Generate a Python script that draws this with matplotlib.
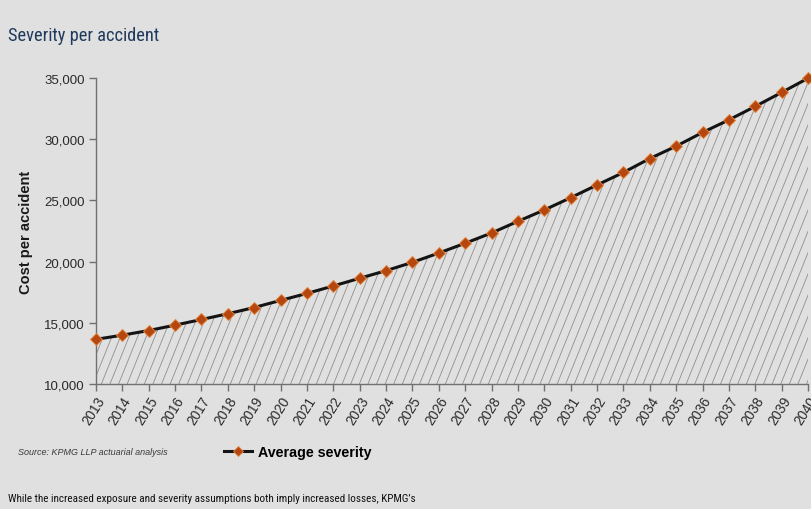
import numpy as np
import matplotlib
matplotlib.use("Agg")
import matplotlib.pyplot as plt
from matplotlib import font_manager
from matplotlib.patches import Polygon
from matplotlib.collections import LineCollection
from matplotlib.lines import Line2D

years = list(range(2013, 2041))
severity = [13650, 13990, 14370, 14810, 15270, 15740, 16250, 16830, 17400, 18010,
            18640, 19260, 19940, 20700, 21500, 22340, 23290, 24220, 25220, 26260,
            27280, 28420, 29430, 30550, 31580, 32680, 33820, 34980]
y_ticks = [10000, 15000, 20000, 25000, 30000, 35000]
y_tick_labels = ["10,000", "15,000", "20,000", "25,000", "30,000", "35,000"]

BG = "#e0e0e0"
plt.rcParams['font.family'] = ['Liberation Sans', 'DejaVu Sans']

# pick a condensed family if one is installed
narrow = None
for fam in ['Liberation Sans Narrow', 'Roboto Condensed', 'Open Sans Condensed', 'DejaVu Sans Condensed']:
    try:
        font_manager.findfont(font_manager.FontProperties(family=fam), fallback_to_default=False)
        narrow = fam
        break
    except Exception:
        pass
if narrow is None:
    title_kw = dict(family=['Liberation Sans', 'DejaVu Sans'], fontsize=11.5)
    body_kw = dict(family=['Liberation Sans', 'DejaVu Sans'], fontsize=7.2)
elif narrow == 'DejaVu Sans Condensed':
    title_kw = dict(family=[narrow, 'DejaVu Sans'], fontsize=11.5)
    body_kw = dict(family=[narrow, 'DejaVu Sans'], fontsize=7.2)
else:
    title_kw = dict(family=[narrow, 'Liberation Sans', 'DejaVu Sans'], fontsize=13.2)
    body_kw = dict(family=[narrow, 'Liberation Sans', 'DejaVu Sans'], fontsize=8.0)

fig = plt.figure(figsize=(8.12, 5.10), dpi=100, facecolor=BG)
ax = fig.add_axes([96/812, 1-385/510, 712/812, 306/510])
ax.set_facecolor(BG)

ymin, ymax = 10000, 35000
x0, x1 = years[0], years[-1]
ax.set_xlim(x0, x1)
ax.set_ylim(ymin, ymax)

# hatched area under the line (steep diagonal lines clipped to the area)
verts = [(x0, ymin)] + list(zip(years, severity)) + [(x1, ymin)]
area = Polygon(verts, closed=True, transform=ax.transData, fill=False, edgecolor='none')
ax.add_patch(area)
px_per_x = 712 / (x1 - x0)
spacing_px = 8.6
angle = np.deg2rad(68)
height_px = 306
shift_px = height_px / np.tan(angle)
starts = np.arange(-shift_px - spacing_px, 712 + spacing_px, spacing_px)
segs = [[(x0 + s / px_per_x, ymin), (x0 + (s + shift_px) / px_per_x, ymax)] for s in starts]
lc = LineCollection(segs, colors="#8f8f8f", linewidths=0.6, zorder=1)
ax.add_collection(lc)
lc.set_clip_path(area)

ax.plot(years, severity, color="#141414", lw=2.2, zorder=3, clip_on=False,
        marker='D', markersize=6.3, markerfacecolor="#b5460f",
        markeredgecolor="#e2843e", markeredgewidth=0.7)

for s in ['top', 'right']:
    ax.spines[s].set_visible(False)
for s in ['left', 'bottom']:
    ax.spines[s].set_color("#707070")
    ax.spines[s].set_linewidth(1.0)

ax.set_yticks(y_ticks)
ax.set_yticklabels(y_tick_labels, fontsize=9.5, color="#2a2a2a")
ax.set_xticks(years)
ax.set_xticklabels([str(y) for y in years], rotation=58, ha='right',
                   rotation_mode='anchor', fontsize=9.8, color="#2a2a2a")
ax.tick_params(axis='both', direction='out', length=5, width=1, color="#707070", pad=3)
ax.tick_params(axis='x', pad=2)

ax.set_ylabel("Cost per accident", fontsize=10.5, fontweight='bold', color="#1a1a1a")
ax.yaxis.set_label_coords(-63/712, 0.5)

fig.text(8/812, 1-36/510, "Severity per accident", color="#1f3a5c",
         va='center', ha='left', **title_kw)

fig.text(18/812, 1-453/510, "Source: KPMG LLP actuarial analysis", fontsize=6.5,
         style='italic', color="#3a3a3a", va='center', ha='left')

handle = Line2D([], [], color="#141414", lw=2.2, marker='D', markersize=5,
                markerfacecolor="#b5460f", markeredgecolor="#e2843e", markeredgewidth=0.6)
fig.legend([handle], ["Average severity"], loc='center left',
           bbox_to_anchor=(211/812, 1-453/510), frameon=False, handlelength=2.0,
           handletextpad=0.4, prop={'weight': 'bold', 'size': 10.3})

fig.text(8/812, 1-499/510,
         "While the increased exposure and severity assumptions both imply increased losses, KPMG\u2019s",
         color="#111111", va='center', ha='left', **body_kw)

fig.savefig("out.png", dpi=100, facecolor=BG)
